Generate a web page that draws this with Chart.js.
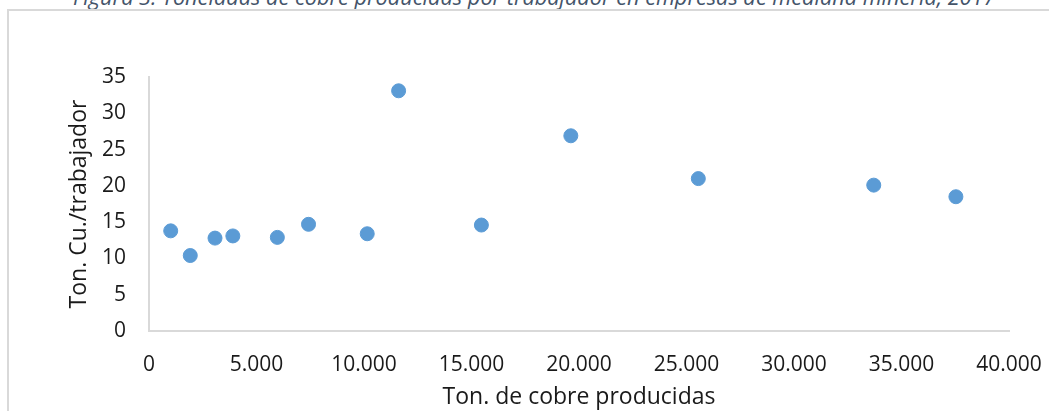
<!DOCTYPE html>
<html>
<head>
<meta charset="utf-8">
<script src="https://cdn.jsdelivr.net/npm/chart.js@4/dist/chart.umd.min.js"></script>
<style>
  html, body { margin: 0; padding: 0; width: 1049px; height: 411px; overflow: hidden; background: #fff; }
  #caption { position: absolute; left: 73px; top: -14px; font-family: "Open Sans", sans-serif; font-style: italic;
             font-size: 21.7px; line-height: 1; color: #44546A; white-space: nowrap; }
  #frame { position: absolute; left: 7px; top: 9px; width: 1100px; height: 500px; border: 2px solid #d9d9d9; box-sizing: border-box; }
  #wrap { position: absolute; left: 0; top: 0; width: 1049px; height: 411px; }
</style>
</head>
<body>
<div id="caption">Figura 3. Toneladas de cobre producidas por trabajador en empresas de mediana minería, 2017</div>
<div id="frame"></div>
<div id="wrap"><canvas id="c" width="1049" height="411"></canvas></div>
<script>
// Data
const xValues = [1010, 1920, 3070, 3900, 5970, 7420, 10150, 11610, 15460, 19620, 25550, 33710, 37530];
const yValues = [13.8, 10.4, 12.8, 13.1, 12.9, 14.7, 13.4, 33.1, 14.6, 26.9, 21.0, 20.1, 18.5];
const xTickLabels = ['0', '5.000', '10.000', '15.000', '20.000', '25.000', '30.000', '35.000', '40.000'];
const yTickLabels = ['0', '5', '10', '15', '20', '25', '30', '35'];
const xTitle = 'Ton. de cobre producidas';
const yTitle = 'Ton. Cu./trabajador';

const points = xValues.map((x, i) => ({ x: x, y: yValues[i] }));
const textColor = '#1a1a1a';
const tickFont = { family: '"Open Sans", sans-serif', size: 21 };
const titleFont = { family: '"Open Sans", sans-serif', size: 23 };

new Chart(document.getElementById('c'), {
  type: 'scatter',
  data: {
    datasets: [{
      data: points,
      backgroundColor: '#5B9BD5',
      borderColor: '#5B9BD5',
      borderWidth: 1,
      pointRadius: 7,
      pointHoverRadius: 7
    }]
  },
  options: {
    responsive: false,
    animation: false,
    devicePixelRatio: 1,
    layout: { padding: { top: 77, right: 40, bottom: 0, left: 0 } },
    plugins: { legend: { display: false }, tooltip: { enabled: false }, title: { display: false } },
    scales: {
      x: {
        type: 'linear',
        min: 0, max: 40000,
        grid: { display: false },
        border: { display: true, color: '#d9d9d9', width: 2 },
        ticks: {
          stepSize: 5000,
          color: textColor,
          font: tickFont,
          padding: 13,
          maxRotation: 0,
          callback: (v, i) => xTickLabels[i]
        },
        title: { display: true, text: xTitle, color: textColor, font: titleFont, padding: { top: 0, bottom: 0 } },
        afterFit: (s) => { s.height = 80; s.paddingLeft = 0; s.paddingRight = 0; }
      },
      y: {
        type: 'linear',
        min: 0, max: 35,
        grid: { display: false },
        border: { display: true, color: '#d9d9d9', width: 2 },
        ticks: {
          stepSize: 5,
          color: textColor,
          font: tickFont,
          padding: 15,
          callback: (v, i) => yTickLabels[i]
        },
        title: { display: true, text: yTitle, color: textColor, font: titleFont, padding: { top: 66, bottom: 0 } },
        afterFit: (s) => { s.width = 149; s.paddingTop = 0; s.paddingBottom = 0; }
      }
    }
  }
});
</script>
</body>
</html>
